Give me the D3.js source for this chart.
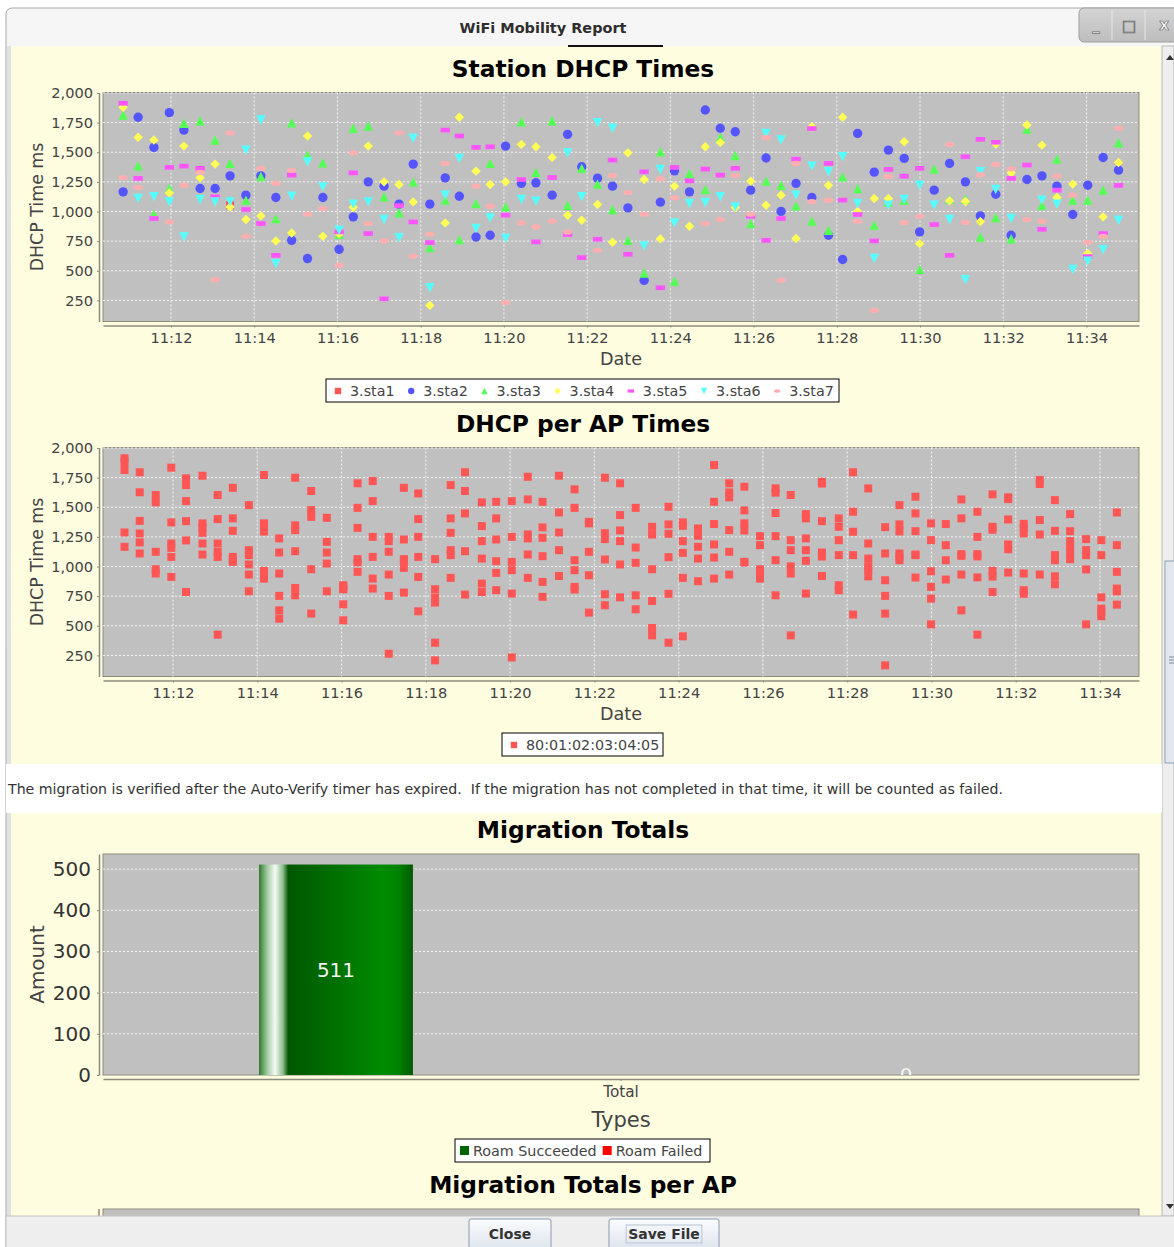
<!DOCTYPE html>
<html>
<head>
<meta charset="utf-8">
<script src="https://cdn.jsdelivr.net/npm/d3@7"></script>
<style>
  body { margin: 0; background: #fff; }
  svg text { font-family: "DejaVu Sans", sans-serif; }
</style>
</head>
<body>
<div class="report"></div>
<script>
// Sampling rounds, minutes after 11:00
const minutes = [
  10.85, 11.21, 11.59, 11.96, 12.31, 12.70, 13.06, 13.42, 13.80, 14.16,
  14.52, 14.90, 15.28, 15.65, 16.04, 16.38, 16.74, 17.12, 17.48, 17.82,
  18.22, 18.59, 18.93, 19.33, 19.67, 20.04, 20.42, 20.77, 21.16, 21.53,
  21.87, 22.25, 22.61, 22.98, 23.37, 23.76, 24.10, 24.46, 24.84, 25.20,
  25.56, 25.93, 26.30, 26.66, 27.02, 27.40, 27.80, 28.14, 28.50, 28.90,
  29.24, 29.62, 29.99, 30.34, 30.71, 31.09, 31.45, 31.82, 32.19, 32.57,
  32.93, 33.29, 33.67, 34.03, 34.40, 34.77
];

// DHCP time (ms) per station for each round, null = no sample
const sta1 = [
  null, null, null, null, null, null, null, 1053, null, null,
  null, null, null, null, null, null, null, null, null, null,
  null, null, null, null, null, null, null, null, null, null,
  null, null, null, null, null, null, null, null, null, null,
  null, null, null, null, null, null, null, null, null, null,
  null, null, null, null, null, null, null, null, null, null,
  null, null, null, null, null, null
];
const sta2 = [
  1166, 1795, 1541, 1834, 1687, 1194, 1194, 1301, 1138, 1301,
  1118, 757, 603, 1118, 681, 955, 1250, 1214, 1062, 1400,
  1062, 1284, 1129, 785, 800, 1552, 1237, 1242, 1138, 1651,
  1377, 1281, 1214, 1031, 419, 1079, 1343, 1166, 1856, 1702,
  1673, 1180, 1451, 1001, 1237, 1118, 800, 595, 1659, 1332,
  1518, 1448, 828, 1180, 1406, 1250, 963, 1146, 800, 1270,
  1301, 1214, 975, 1222, 1456, 1349
];
const sta3 = [
  1814, 1385, 977, 1194, 1744, 1766, 1603, 1406, 1096, 1295,
  941, 1749, 1476, 1411, 808, 1702, 1721, 1124, 989, 1250,
  696, 1096, 763, 1067, 1406, 1039, 1757, 1330, 1766, 1053,
  1364, 1231, 1017, 757, 481, 1504, 411, 1321, 1186, 1625,
  1473, 898, 1256, 1222, 1048, 920, 842, 1293, 1194, 884,
  1081, 1096, 512, 1358, 1104, 1104, 785, 949, 770, 1696,
  1053, 1442, 1096, 1096, 1180, 1580
];
const sta4 = [
  1879, 1626, 1603, 1157, 1552, 1284, 1400, 1039, 932, 963,
  752, 819, 1637, 791, 811, 1035, 1552, 1250, 1228, 1081,
  208, 904, 1795, 1341, 1228, 1250, 1566, 1546, 1456, 969,
  926, 1059, 740, 1495, 1270, 769, 1214, 876, 1546, 1583,
  1034, 1256, 1053, 1138, 772, 1715, 1222, 1795, 1001, 1110,
  1110, 1589, 729, null, 1090, 1085, 915, 1569, 1326, 1730,
  1560, 1118, 1231, 645, 955, 1414
];
const sta5 = [
  1913, 1279, 941, 1372, 1383, 1364, 1124, null, 1017, 898,
  630, 1307, null, null, 828, 1326, 814, 264, 1050, 912,
  738, 1687, 1637, 1541, 1546, 969, 1270, 744, 1287, 806,
  611, 766, 1434, 639, 1335, 357, 1372, 1259, 1358, 1307,
  1364, 960, 757, 941, 1442, 1700, 1406, 1096, 975, 752,
  1355, 1298, 1364, 890, 630, 1462, 1609, 1584, 1279, 1392,
  850, 1180, null, 620, 814, 1220
];
const sta6 = [
  null, 1110, 1124, 1081, 785, 1101, 1081, 1081, 1518, 1772,
  560, 1129, 1419, 1208, 842, 1062, 1081, 932, 780, 1617,
  357, 1138, 1448, 856, 946, 772, 1101, 1087, null, 1495,
  1124, 1749, 1702, null, 709, 1355, 904, 1067, 1076, 1124,
  1039, null, 1659, 1603, 1138, 1383, 1335, 1462, 1067, 603,
  1053, 1101, 1222, 1053, 932, 425, 1335, 1186, 941, null,
  1096, 1062, 512, 580, 678, 926
];
const sta7 = [
  1287, 1203, null, 912, 1220, 1330, 425, 1664, 791, 1364,
  1237, 1347, 977, 1025, 546, 1495, 898, 752, 1664, 622,
  808, 1406, null, 1214, 1045, 233, 904, 870, 920, 828,
  null, 673, 1304, 1160, 977, 1276, 1115, null, 898, 932,
  1304, 977, 1623, 419, 1406, 1084, 1096, null, 917, 166,
  1296, 907, 960, null, 1566, 908, 1310, 1397, 1360, 932,
  917, 1298, 1138, 740, 790, 1702
];
const stationNames = ["3.sta1", "3.sta2", "3.sta3", "3.sta4", "3.sta5", "3.sta6", "3.sta7"];
const stationValues = [sta1, sta2, sta3, sta4, sta5, sta6, sta7];
const stationColors = ["#ff5555", "#5555ff", "#55ff55", "#ffff55", "#ff55ff", "#55ffff", "#ffafaf"];
const stationShapes = ["square", "circle", "triUp", "diamond", "bar", "triDown", "ellipse"];

// The AP chart holds the same samples, up to its last round
const apName = "80:01:02:03:04:05";
const apLastMinute = 34.5;

// Axis ranges (minutes after 11:00) and ticks
const stationRange = [10.366, 35.262];
const apRange = [10.339, 34.925];
const dhcpRange = [72, 2004];
const dhcpTicks = [250, 500, 750, 1000, 1250, 1500, 1750, 2000];

// Migration totals
const migrationTypes = ["Total"];
const migrationSeries = ["Roam Succeeded", "Roam Failed"];
const migrationCounts = [511, 0];
const migrationColors = ["#006400", "#ff0000"];
const amountTicks = [0, 100, 200, 300, 400, 500];

const note = "The migration is verified after the Auto-Verify timer has expired.  If the migration has not completed in that time, it will be counted as failed.";

const W = 1174, H = 1247;
const plotL = 103, plotR = 1139, midX = 583;
const baseTime = new Date(2016, 0, 1, 11, 0, 0);
const toDate = m => new Date(baseTime.getTime() + m * 60000);

const svg = d3.select(".report")
  .append("svg")
    .attr("width", W)
    .attr("height", H);

const defs = svg.append("defs");

// Window chrome
const titleGrad = defs.append("linearGradient").attr("id", "titleGrad")
  .attr("x1", 0).attr("y1", 0).attr("x2", 0).attr("y2", 1);
titleGrad.append("stop").attr("offset", 0).attr("stop-color", "#f6f6f6");
titleGrad.append("stop").attr("offset", 1).attr("stop-color", "#e6e6e6");

svg.append("rect")
  .attr("x", 6).attr("y", 8).attr("width", W).attr("height", H)
  .attr("rx", 6)
  .attr("fill", "url(#titleGrad)")
  .attr("stroke", "#a9a9a9");

svg.append("text")
  .attr("x", 543).attr("y", 33)
  .attr("text-anchor", "middle")
  .attr("font-size", 14).attr("font-weight", "bold")
  .attr("fill", "#2e2e2e")
  .attr("textLength", 167).attr("lengthAdjust", "spacingAndGlyphs")
  .text("WiFi Mobility Report");

const btnGrad = defs.append("linearGradient").attr("id", "btnGrad")
  .attr("x1", 0).attr("y1", 0).attr("x2", 0).attr("y2", 1);
btnGrad.append("stop").attr("offset", 0).attr("stop-color", "#d4d4d4");
btnGrad.append("stop").attr("offset", 1).attr("stop-color", "#bdbdbd");
svg.append("rect")
  .attr("x", 1079).attr("y", 8).attr("width", 110).attr("height", 34)
  .attr("rx", 5)
  .attr("fill", "url(#btnGrad)").attr("stroke", "#9e9e9e");
[1112, 1145].forEach(xx => svg.append("line")
  .attr("x1", xx).attr("x2", xx).attr("y1", 10).attr("y2", 40)
  .attr("stroke", "#e6e6e6"));
[["_", 1096, 30], ["\u25a1", 1129, 31], ["x", 1164, 30]].forEach(([t, xx, yy]) =>
  svg.append("text")
    .attr("x", xx).attr("y", yy)
    .attr("text-anchor", "middle")
    .attr("font-size", 15).attr("font-weight", "bold")
    .attr("fill", "#ffffff").attr("stroke", "#6a6a6a").attr("stroke-width", 0.7)
    .text(t));

// Content panel
svg.append("rect")
  .attr("x", 7).attr("y", 46).attr("width", 4).attr("height", 1170)
  .attr("fill", "#e2e2e2");
svg.append("rect")
  .attr("x", 11).attr("y", 46).attr("width", 1151).attr("height", 1170)
  .attr("fill", "#fefde0");
svg.append("rect")
  .attr("x", 568).attr("y", 45).attr("width", 95).attr("height", 2)
  .attr("fill", "#111");

// Scroll bar
svg.append("rect")
  .attr("x", 1162).attr("y", 46).attr("width", 12).attr("height", 1170)
  .attr("fill", "#eeeeee").attr("stroke", "#b9b9b9");
svg.append("rect")
  .attr("x", 1165).attr("y", 561).attr("width", 12).attr("height", 202)
  .attr("fill", "#e3e8ee").attr("stroke", "#8b9bb0");
svg.append("path")
  .attr("d", "M1169,657h5M1169,660h5M1169,663h5")
  .attr("stroke", "#7a8696");
svg.append("path").attr("d", "M1166,60 l4,-5 l4,5 Z").attr("fill", "#333");
svg.append("path").attr("d", "M1166,1204 l4,5 l4,-5 Z").attr("fill", "#333");

// Marker shapes centred on 0,0
function shapePath(kind, s) {
  switch (kind) {
    case "square": return `M${-s},${-s}h${2 * s}v${2 * s}h${-2 * s}Z`;
    case "circle": return `M${-s},0a${s},${s} 0 1,0 ${2 * s},0a${s},${s} 0 1,0 ${-2 * s},0`;
    case "triUp": return `M0,${-s}L${s},${s}L${-s},${s}Z`;
    case "diamond": return `M0,${-s}L${s},0L0,${s}L${-s},0Z`;
    case "bar": return `M${-s},${-s / 2}h${2 * s}v${s}h${-2 * s}Z`;
    case "triDown": return `M${-s},${-s}L${s},${-s}L0,${s}Z`;
    case "ellipse": return `M${-s},0a${s},${s * 0.55} 0 1,0 ${2 * s},0a${s},${s * 0.55} 0 1,0 ${-2 * s},0`;
    default: return "";
  }
}

function chartTitle(text, y) {
  svg.append("text")
    .attr("x", midX).attr("y", y)
    .attr("text-anchor", "middle")
    .attr("font-size", 23.3).attr("font-weight", "bold")
    .attr("fill", "#000")
    .text(text);
}

function legendBox(x, y, w) {
  const g = svg.append("g").attr("transform", `translate(${x},${y})`);
  g.append("rect")
    .attr("width", w).attr("height", 23)
    .attr("fill", "#fff").attr("stroke", "#000");
  return g;
}

// Time series scatter chart
function timeChart(cfg) {
  const x = d3.scaleTime()
    .domain(cfg.range.map(toDate))
    .range([plotL, plotR]);
  const y = d3.scaleLinear()
    .domain(dhcpRange)
    .range([cfg.bottom, cfg.top]);

  chartTitle(cfg.title, cfg.top - 16);

  svg.append("rect")
    .attr("x", plotL).attr("y", cfg.top)
    .attr("width", plotR - plotL).attr("height", cfg.bottom - cfg.top)
    .attr("fill", "#c0c0c0").attr("stroke", "#8c8c7c");

  const timeTicks = x.ticks(d3.timeMinute.every(2));
  svg.append("g").selectAll("line")
    .data(timeTicks).enter().append("line")
      .attr("x1", d => x(d)).attr("x2", d => x(d))
      .attr("y1", cfg.top).attr("y2", cfg.bottom)
      .attr("stroke", "#f4f4f4").attr("stroke-dasharray", "2,2");
  svg.append("g").selectAll("line")
    .data(dhcpTicks).enter().append("line")
      .attr("x1", plotL).attr("x2", plotR)
      .attr("y1", d => y(d)).attr("y2", d => y(d))
      .attr("stroke", "#f4f4f4").attr("stroke-dasharray", "2,2");

  const yAxis = svg.append("g")
    .attr("transform", `translate(${plotL - 4},0)`)
    .call(d3.axisLeft(y).tickValues(dhcpTicks).tickFormat(d3.format(","))
      .tickSizeInner(2).tickSizeOuter(0).tickPadding(4));
  const xAxis = svg.append("g")
    .attr("transform", `translate(0,${cfg.bottom + 4})`)
    .call(d3.axisBottom(x).ticks(d3.timeMinute.every(2)).tickFormat(d3.timeFormat("%H:%M"))
      .tickSizeInner(2).tickSizeOuter(0).tickPadding(5));
  [yAxis, xAxis].forEach(a => {
    a.select(".domain").attr("stroke", "#8c8c7c").attr("stroke-width", 1.5);
    a.selectAll(".tick line").attr("stroke", "#8c8c7c");
    a.selectAll("text")
      .attr("font-size", 14.6).attr("fill", "#444")
      .style("font-family", "DejaVu Sans, sans-serif");
  });

  svg.append("text")
    .attr("transform", `translate(43,${(cfg.top + cfg.bottom) / 2}) rotate(-90)`)
    .attr("text-anchor", "middle")
    .attr("font-size", 17.4).attr("fill", "#444")
    .text("DHCP Time ms");
  svg.append("text")
    .attr("x", (plotL + plotR) / 2).attr("y", cfg.bottom + 43)
    .attr("text-anchor", "middle")
    .attr("font-size", 17.6).attr("fill", "#444")
    .text("Date");

  cfg.series.forEach(s => {
    svg.append("g").selectAll("path")
      .data(s.points).enter().append("path")
        .attr("transform", d => `translate(${x(toDate(d[0]))},${y(d[1])})`)
        .attr("d", shapePath(s.shape, s.size))
        .attr("fill", s.color);
  });
}

const stationSeries = stationValues.map((vals, i) => ({
  shape: stationShapes[i],
  size: stationShapes[i] === "square" ? 4 : 4.7,
  color: stationColors[i],
  points: minutes.map((m, j) => [m, vals[j]]).filter(d => d[1] != null)
}));

timeChart({
  title: "Station DHCP Times",
  top: 92.5, bottom: 321.5,
  range: stationRange,
  series: stationSeries
});

// Station legend
const leg1 = legendBox(326, 379, 513);
stationNames.forEach((name, i) => {
  const lx = 12 + i * 73.2;
  leg1.append("path")
    .attr("transform", `translate(${lx},12)`)
    .attr("d", shapePath(stationShapes[i], 3.2))
    .attr("fill", stationColors[i]);
  leg1.append("text")
    .attr("x", lx + 12).attr("y", 16.5)
    .attr("font-size", 14.3).attr("fill", "#444")
    .text(name);
});

// Per AP chart: every station sample up to the AP's last round
const apPoints = [];
stationValues.forEach(vals => minutes.forEach((m, j) => {
  if (vals[j] != null && m <= apLastMinute) apPoints.push([m, vals[j]]);
}));

timeChart({
  title: "DHCP per AP Times",
  top: 447.5, bottom: 676.5,
  range: apRange,
  series: [{ shape: "square", size: 4, color: "#ff5555", points: apPoints }]
});

const leg2 = legendBox(502, 733, 161);
leg2.append("path")
  .attr("transform", "translate(12,12)")
  .attr("d", shapePath("square", 3.2))
  .attr("fill", "#ff5555");
leg2.append("text")
  .attr("x", 24).attr("y", 16.5)
  .attr("font-size", 14.3).attr("fill", "#444")
  .text(apName);

// Note strip
svg.append("rect")
  .attr("x", 6).attr("y", 764).attr("width", 1156).attr("height", 49)
  .attr("fill", "#fff");
svg.append("text")
  .attr("x", 8).attr("y", 794)
  .attr("font-size", 14).attr("fill", "#333")
  .style("white-space", "pre")
  .attr("textLength", 995).attr("lengthAdjust", "spacingAndGlyphs")
  .text(note);

// Migration totals bar chart
const barTop = 854, barBottom = 1075;
chartTitle("Migration Totals", 838);

const amount = d3.scaleLinear()
  .domain([0, d3.max(migrationCounts) * 1.05])
  .range([barBottom, barTop]);
const typeScale = d3.scaleBand()
  .domain(migrationTypes)
  .range([plotL, plotR])
  .paddingInner(0).paddingOuter(0.2155);
const seriesScale = d3.scaleBand()
  .domain(migrationSeries)
  .range([0, typeScale.bandwidth()])
  .paddingInner(0.73).paddingOuter(0);

svg.append("rect")
  .attr("x", plotL).attr("y", barTop)
  .attr("width", plotR - plotL).attr("height", barBottom - barTop)
  .attr("fill", "#c0c0c0").attr("stroke", "#8c8c7c");
svg.append("g").selectAll("line")
  .data(amountTicks.filter(d => d > 0)).enter().append("line")
    .attr("x1", plotL).attr("x2", plotR)
    .attr("y1", d => amount(d)).attr("y2", d => amount(d))
    .attr("stroke", "#f4f4f4").attr("stroke-dasharray", "2,2");

const barGrad = defs.append("linearGradient").attr("id", "barGrad")
  .attr("x1", 0).attr("y1", 0).attr("x2", 1).attr("y2", 0);
[[0, "#2f7a2f"], [0.05, "#9cc79c"], [0.105, "#f6fbf6"], [0.155, "#8fbd8f"],
 [0.19, "#005800"], [0.5, "#007000"], [0.8, "#008c00"], [0.9, "#008400"], [1, "#005a00"]]
  .forEach(([o, c]) => barGrad.append("stop").attr("offset", o).attr("stop-color", c));

defs.append("clipPath").attr("id", "barClip")
  .append("rect")
    .attr("x", plotL).attr("y", barTop)
    .attr("width", plotR - plotL).attr("height", barBottom - barTop);

const bars = svg.append("g").attr("clip-path", "url(#barClip)");
migrationTypes.forEach(type => {
  migrationSeries.forEach((s, i) => {
    const bx = typeScale(type) + seriesScale(s);
    const v = migrationCounts[i];
    bars.append("rect")
      .attr("x", bx).attr("y", amount(v))
      .attr("width", seriesScale.bandwidth())
      .attr("height", barBottom - amount(v))
      .attr("fill", i === 0 ? "url(#barGrad)" : migrationColors[i]);
    bars.append("text")
      .attr("x", bx + seriesScale.bandwidth() / 2)
      .attr("y", (amount(v) + barBottom) / 2 + 7)
      .attr("text-anchor", "middle")
      .attr("font-size", 20).attr("fill", "#f4f4f4")
      .text(v);
  });
});

const amountAxis = svg.append("g")
  .attr("transform", `translate(${plotL - 4},0)`)
  .call(d3.axisLeft(amount).tickValues(amountTicks)
    .tickSizeInner(2).tickSizeOuter(0).tickPadding(6));
const typeAxis = svg.append("g")
  .attr("transform", `translate(0,${barBottom + 4})`)
  .call(d3.axisBottom(typeScale).tickSizeInner(2).tickSizeOuter(0).tickPadding(5));
[amountAxis, typeAxis].forEach(a => {
  a.select(".domain").attr("stroke", "#8c8c7c").attr("stroke-width", 1.5);
  a.selectAll(".tick line").attr("stroke", "#8c8c7c");
  a.selectAll("text").style("font-family", "DejaVu Sans, sans-serif");
});
amountAxis.selectAll("text").attr("font-size", 20).attr("fill", "#333");
typeAxis.selectAll("text").attr("font-size", 15.3).attr("fill", "#444");

svg.append("text")
  .attr("transform", `translate(44,${(barTop + barBottom) / 2}) rotate(-90)`)
  .attr("text-anchor", "middle")
  .attr("font-size", 20).attr("fill", "#444")
  .text("Amount");
svg.append("text")
  .attr("x", (plotL + plotR) / 2).attr("y", 1127)
  .attr("text-anchor", "middle")
  .attr("font-size", 21).attr("fill", "#444")
  .text("Types");

const leg3 = legendBox(455, 1139, 255);
let lx3 = 5;
migrationSeries.forEach((s, i) => {
  leg3.append("rect")
    .attr("x", lx3).attr("y", 7).attr("width", 9).attr("height", 9)
    .attr("fill", migrationColors[i]);
  const t = leg3.append("text")
    .attr("x", lx3 + 13).attr("y", 16.5)
    .attr("font-size", 14.3).attr("fill", "#444")
    .text(s);
  lx3 += 13 + t.node().getComputedTextLength() + 6;
});

// Next chart, cut off by the button bar
chartTitle("Migration Totals per AP", 1193);
svg.append("rect")
  .attr("x", plotL).attr("y", 1209)
  .attr("width", plotR - plotL).attr("height", 20)
  .attr("fill", "#c0c0c0").attr("stroke", "#8c8c7c");
svg.append("line")
  .attr("x1", plotL - 4).attr("x2", plotL - 4)
  .attr("y1", 1209).attr("y2", 1230)
  .attr("stroke", "#8c8c7c").attr("stroke-width", 1.5);

// Button bar
svg.append("rect")
  .attr("x", 6).attr("y", 1216).attr("width", W).attr("height", 40)
  .attr("fill", "#eeeeee").attr("stroke", "#c4c4c4");
const pushGrad = defs.append("linearGradient").attr("id", "pushGrad")
  .attr("x1", 0).attr("y1", 0).attr("x2", 0).attr("y2", 1);
pushGrad.append("stop").attr("offset", 0).attr("stop-color", "#fbfcfe");
pushGrad.append("stop").attr("offset", 1).attr("stop-color", "#dce3ec");
[["Close", 469, 82], ["Save File", 609, 110]].forEach(([label, bx, bw], i) => {
  svg.append("rect")
    .attr("x", bx).attr("y", 1219).attr("width", bw).attr("height", 32)
    .attr("rx", 2)
    .attr("fill", "url(#pushGrad)").attr("stroke", "#8a9bb2");
  const t = svg.append("text")
    .attr("x", bx + bw / 2).attr("y", 1239)
    .attr("text-anchor", "middle")
    .attr("font-size", 14).attr("font-weight", "bold").attr("fill", "#333")
    .text(label);
  if (i === 1) {
    const bb = t.node().getBBox();
    svg.append("rect")
      .attr("x", bb.x - 2).attr("y", bb.y - 1)
      .attr("width", bb.width + 4).attr("height", bb.height + 2)
      .attr("fill", "none").attr("stroke", "#b8c4d4");
  }
});
</script>
</body>
</html>
